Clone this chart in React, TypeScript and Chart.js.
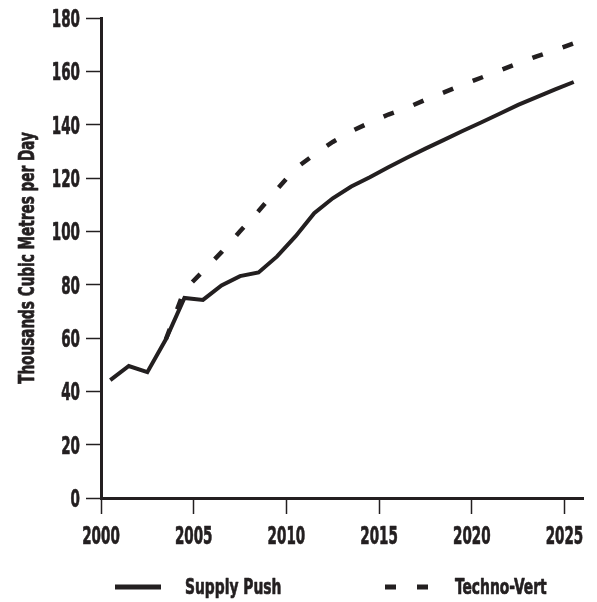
import React, { useEffect, useRef } from "react";
import { Chart, registerables } from "chart.js";

Chart.register(...registerables);

const supplyYears = [2000.5, 2001.5, 2002.5, 2003.5, 2004.5, 2005.5, 2006.5, 2007.5, 2008.5, 2009.5, 2010.5, 2011.5, 2012.5, 2013.5, 2014.5, 2015.5, 2016.5, 2017.5, 2018.5, 2019.5, 2020.5, 2021.5, 2022.5, 2023.5, 2024.5, 2025.5];
const supplyPush = [44.2, 49.5, 47.2, 59.5, 75, 74.3, 79.7, 83.2, 84.6, 90.6, 98.2, 106.8, 112.4, 116.8, 120.3, 124, 127.6, 131, 134.3, 137.6, 140.8, 144.1, 147.4, 150.3, 153.2, 156];

const technoYears = [2003.5, 2004.5, 2005.5, 2006.5, 2007.5, 2008.5, 2009.5, 2010.5, 2011.5, 2012.5, 2013.5, 2014.5, 2015.5, 2016.5, 2017.5, 2018.5, 2019.5, 2020.5, 2021.5, 2022.5, 2023.5, 2024.5, 2025.5];
const technoVert = [59.5, 78, 85, 92.2, 100, 107.6, 115.8, 123.6, 128.8, 133.5, 137.5, 140.8, 143.8, 146.3, 149.3, 152.1, 154.9, 157.6, 160.3, 163, 165.6, 168, 170.5];

const seriesLabels = ["Supply Push", "Techno-Vert"];
const yAxisTitle = "Thousands Cubic Metres per Day";

const INK = "#231f20";
const FONT = "'DejaVu Sans Condensed', 'DejaVu Sans', sans-serif";

function narrowText(ctx: any, text: string, x: number, y: number, size: number, sx: number, align: string, rot = 0) {
  ctx.save();
  ctx.translate(x, y);
  if (rot) ctx.rotate(rot);
  ctx.scale(sx, 1);
  ctx.font = `bold ${size}px ${FONT}`;
  ctx.fillStyle = INK;
  ctx.strokeStyle = INK;
  ctx.lineWidth = 0.7;
  ctx.lineJoin = "round";
  ctx.textAlign = align;
  ctx.textBaseline = "alphabetic";
  ctx.fillText(text, 0, 0);
  ctx.strokeText(text, 0, 0);
  ctx.restore();
}

const textPlugin = {
  id: "narrowTexts",
  afterDraw(chart: any) {
    const ctx = chart.ctx;
    const area = chart.chartArea;
    const xs = chart.scales.x;
    const ys = chart.scales.y;
    const tickSize = 25;
    const tickSx = 0.6;
    ys.ticks.forEach((t: any) => {
      const py = ys.getPixelForValue(t.value);
      narrowText(ctx, String(t.value), area.left - 21, py + 0.729 * tickSize / 2, tickSize, tickSx, "right");
    });
    xs.ticks.forEach((t: any) => {
      const px = xs.getPixelForValue(t.value);
      narrowText(ctx, String(t.value), px, area.bottom + 46, tickSize, tickSx, "center");
    });
    narrowText(ctx, yAxisTitle, 33.5, (area.top + area.bottom) / 2, 21, 0.72, "center", -Math.PI / 2);
    const y = 587;
    const items = [
      { x0: area.left + 14, x1: area.left + 60, tx: area.left + 84 },
      { x0: area.left + 284, x1: area.left + 327, tx: area.left + 354 },
    ];
    chart.data.datasets.forEach((ds: any, i: number) => {
      const it = items[i];
      if (!it) return;
      ctx.save();
      ctx.strokeStyle = ds.borderColor;
      ctx.lineWidth = 5;
      ctx.lineCap = "butt";
      ctx.setLineDash(ds.borderDash || []);
      ctx.beginPath();
      ctx.moveTo(it.x0, y);
      ctx.lineTo(it.x1, y);
      ctx.stroke();
      ctx.restore();
      narrowText(ctx, ds.label, it.tx, 594, 22, 0.7, "left");
    });
  },
};

export default function App() {
  const ref = useRef<HTMLCanvasElement | null>(null);

  useEffect(() => {
    document.body.style.margin = "0";
    const canvas = ref.current;
    if (!canvas) return;
    const chart = new Chart(canvas, {
      type: "line",
      data: {
        datasets: [
          {
            label: seriesLabels[0],
            data: supplyYears.map((x, i) => ({ x, y: supplyPush[i] })),
            borderColor: INK,
            borderWidth: 4,
            pointRadius: 0,
            tension: 0,
            fill: false,
          },
          {
            label: seriesLabels[1],
            data: technoYears.map((x, i) => ({ x, y: technoVert[i] })),
            borderColor: INK,
            borderWidth: 4.5,
            borderDash: [11, 21],
            pointRadius: 0,
            tension: 0,
            fill: false,
          },
        ],
      },
      options: {
        responsive: false,
        animation: false,
        layout: { padding: { top: 18, right: 14, bottom: 60, left: 0 } },
        plugins: {
          legend: { display: false },
          tooltip: { enabled: false },
        },
        scales: {
          x: {
            type: "linear",
            min: 2000,
            max: 2026,
            afterFit: (s: any) => {
              s.height = 44;
            },
            ticks: {
              display: false,
              stepSize: 5,
              includeBounds: false,
            },
            grid: {
              drawOnChartArea: false,
              drawTicks: true,
              tickLength: 16,
              tickWidth: 1.5,
              tickColor: INK,
            },
            border: { color: INK, width: 3 },
          },
          y: {
            type: "linear",
            min: 0,
            max: 180,
            afterFit: (s: any) => {
              s.width = 101;
            },
            ticks: {
              display: false,
              stepSize: 20,
            },
            grid: {
              drawOnChartArea: false,
              drawTicks: true,
              tickLength: 15,
              tickWidth: 1.5,
              tickColor: INK,
            },
            border: { color: INK, width: 3 },
          },
        },
      },
      plugins: [textPlugin],
    });
    return () => chart.destroy();
  }, []);

  return (
    <div style={{ width: 597, height: 602, background: "#fff" }}>
      <canvas ref={ref} width={597} height={602} />
    </div>
  );
}
